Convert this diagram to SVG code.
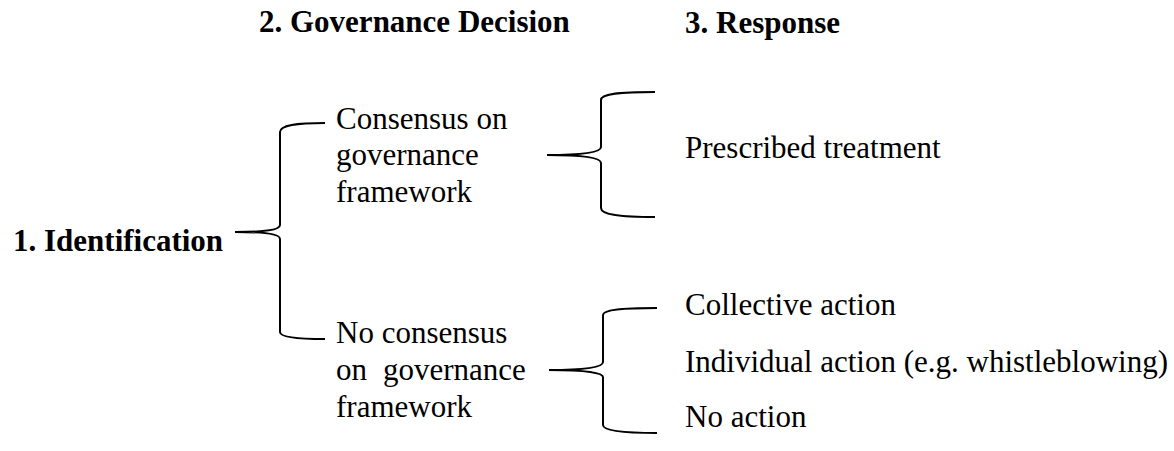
<svg xmlns="http://www.w3.org/2000/svg" width="1174" height="451" viewBox="0 0 1174 451">
<style>
.h{font-family:"Liberation Serif","Times New Roman",serif;font-weight:bold;font-size:31px;fill:#000}
.t{font-family:"Liberation Serif","Times New Roman",serif;font-size:31px;fill:#000}
.b{fill:none;stroke:#000;stroke-width:2}
</style>
<rect width="1174" height="451" fill="#fff"/>
<g id="header-2"><text class="h" x="259" y="32">2. Governance Decision</text></g>
<g id="header-3"><text class="h" x="685" y="33">3. Response</text></g>
<g id="identification"><text class="h" x="13" y="251">1. Identification</text></g>
<g id="consensus"><text class="t" x="336" y="129">Consensus on</text><text class="t" x="336" y="165">governance</text><text class="t" x="336" y="202">framework</text></g>
<g id="no-consensus"><text class="t" x="336" y="343">No consensus</text><text class="t" x="336" y="380">on</text><text class="t" x="383" y="380">governance</text><text class="t" x="336" y="417">framework</text></g>
<g id="prescribed"><text class="t" x="685" y="158">Prescribed treatment</text></g>
<g id="collective"><text class="t" x="685" y="315">Collective action</text></g>
<g id="individual"><text class="t" x="685" y="372">Individual action (e.g. whistleblowing)</text></g>
<g id="no-action"><text class="t" x="685" y="427">No action</text></g>
<g id="connectors">
<path class="b" d="M325 123 C296 123 280 125 280 132 L280 225 C280 230 265 232 235 232 C265 232 280 234 280 239 L280 332 C280 337 296 339 325 339"/>
<path class="b" d="M655 92 C617 92 601 94 601 100 L601 147 C601 152 585 155 547 155 C585 155 601 158 601 163 L601 208 C601 214 617 217 655 217"/>
<path class="b" d="M657 308 C619 308 603 310 603 315 L603 362 C603 367 587 370 549 370 C587 370 603 373 603 377 L603 425 C603 430 619 433 657 433"/>
</g>
</svg>
